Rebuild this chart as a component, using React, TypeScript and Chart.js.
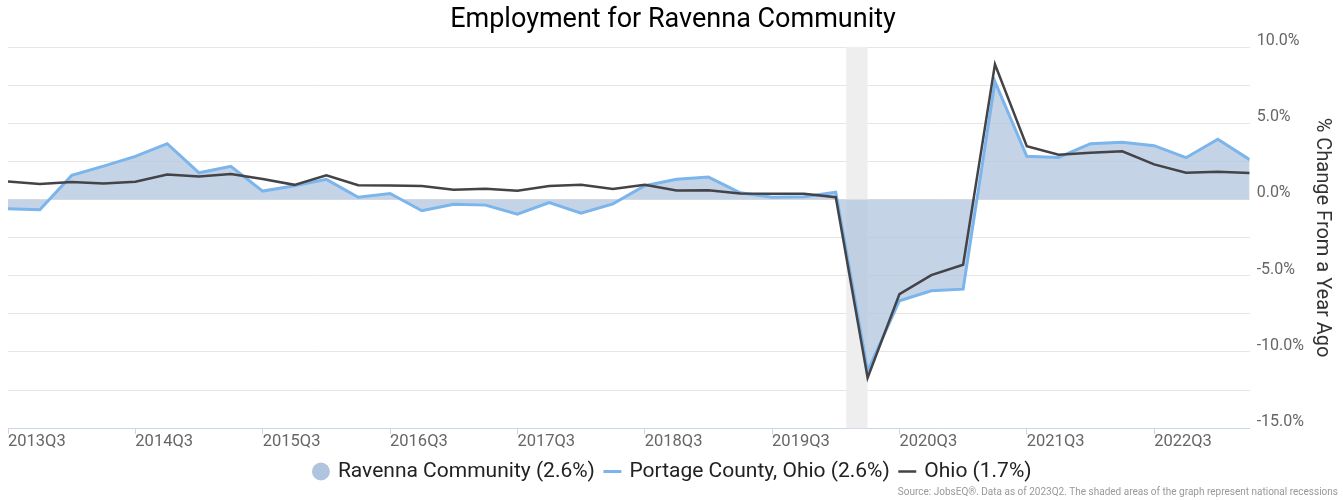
import React, { useEffect, useRef } from 'react';
import { Chart, registerables } from 'chart.js';

Chart.register(...registerables);

const quarters = [
  '2013Q3', '2013Q4', '2014Q1', '2014Q2', '2014Q3', '2014Q4', '2015Q1', '2015Q2',
  '2015Q3', '2015Q4', '2016Q1', '2016Q2', '2016Q3', '2016Q4', '2017Q1', '2017Q2',
  '2017Q3', '2017Q4', '2018Q1', '2018Q2', '2018Q3', '2018Q4', '2019Q1', '2019Q2',
  '2019Q3', '2019Q4', '2020Q1', '2020Q2', '2020Q3', '2020Q4', '2021Q1', '2021Q2',
  '2021Q3', '2021Q4', '2022Q1', '2022Q2', '2022Q3', '2022Q4', '2023Q1', '2023Q2',
];

const ravenna = [
  -0.61, -0.68, 1.58, 2.19, 2.83, 3.66, 1.75, 2.17, 0.55, 0.9,
  1.32, 0.15, 0.39, -0.74, -0.31, -0.37, -0.96, -0.2, -0.9, -0.29,
  0.9, 1.32, 1.47, 0.44, 0.15, 0.18, 0.48, -11.25, -6.64, -5.99,
  -5.88, 7.72, 2.83, 2.76, 3.66, 3.75, 3.53, 2.74, 3.95, 2.61,
];

const portage = [
  -0.61, -0.68, 1.58, 2.19, 2.83, 3.66, 1.75, 2.17, 0.55, 0.9,
  1.32, 0.15, 0.39, -0.74, -0.31, -0.37, -0.96, -0.2, -0.9, -0.29,
  0.9, 1.32, 1.47, 0.44, 0.15, 0.18, 0.48, -11.25, -6.64, -5.99,
  -5.88, 7.72, 2.83, 2.76, 3.66, 3.75, 3.53, 2.74, 3.95, 2.61,
];

const ohio = [
  1.18, 1.01, 1.14, 1.05, 1.16, 1.64, 1.51, 1.67, 1.34, 0.96,
  1.58, 0.94, 0.92, 0.88, 0.64, 0.7, 0.57, 0.88, 0.96, 0.68,
  0.96, 0.59, 0.61, 0.39, 0.37, 0.37, 0.15, -11.69, -6.21, -4.96,
  -4.28, 8.86, 3.49, 2.94, 3.07, 3.16, 2.3, 1.75, 1.82, 1.73,
];

const seriesNames = ['Ravenna Community (2.6%)', 'Portage County, Ohio (2.6%)', 'Ohio (1.7%)'];
const xTickIndices = [0, 4, 8, 12, 16, 20, 24, 28, 32, 36];
const yMin = -15;
const yMax = 10;
const yStep = 2.5;
// recession band in quarter-index units (Feb 2020 – Apr 2020)
const recessionStart = 26.33;
const recessionEnd = 27.0;

const titleText = 'Employment for Ravenna Community';
const yAxisTitle = '% Change From a Year Ago';
const sourceText = 'Source: JobsEQ®. Data as of 2023Q2. The shaded areas of the graph represent national recessions';

const toPoints = (arr: number[]) => arr.map((v, i) => ({ x: i, y: v }));

const recessionPlugin = {
  id: 'recessionBand',
  beforeDatasetsDraw(chart: any) {
    const { ctx, chartArea, scales } = chart;
    const x1 = scales.x.getPixelForValue(recessionStart);
    const x2 = scales.x.getPixelForValue(recessionEnd);
    ctx.save();
    ctx.fillStyle = '#eeeeee';
    ctx.fillRect(x1, chartArea.top, x2 - x1, chartArea.bottom - chartArea.top);
    ctx.restore();
  },
};

export default function App() {
  const canvasRef = useRef<HTMLCanvasElement | null>(null);

  useEffect(() => {
    if (!canvasRef.current) return;
    Chart.defaults.font.family = 'Roboto';
    const chart = new Chart(canvasRef.current, {
      type: 'line',
      data: {
        datasets: [
          {
            label: seriesNames[0],
            data: toPoints(ravenna),
            fill: 'origin',
            backgroundColor: 'rgba(176,196,222,0.75)',
            borderColor: 'rgba(0,0,0,0)',
            borderWidth: 0,
            pointRadius: 0,
            pointHoverRadius: 0,
            pointStyle: 'circle',
            tension: 0,
            order: 3,
          },
          {
            label: seriesNames[1],
            data: toPoints(portage),
            fill: false,
            borderColor: '#7cb5ec',
            backgroundColor: '#7cb5ec',
            borderWidth: 3,
            pointRadius: 0,
            pointHoverRadius: 0,
            pointStyle: 'line',
            tension: 0,
            order: 2,
          },
          {
            label: seriesNames[2],
            data: toPoints(ohio),
            fill: false,
            borderColor: '#434348',
            backgroundColor: '#434348',
            borderWidth: 2.5,
            pointRadius: 0,
            pointHoverRadius: 0,
            pointStyle: 'line',
            tension: 0,
            order: 1,
          },
        ],
      },
      options: {
        animation: false,
        responsive: true,
        maintainAspectRatio: false,
        layout: { padding: { left: 8, right: 5, top: 0, bottom: 2 } },
        plugins: {
          title: {
            display: true,
            text: titleText,
            color: '#000000',
            font: { size: 27, weight: 'normal' },
            padding: { top: 4, bottom: 10.6 },
          },
          subtitle: {
            display: true,
            text: sourceText,
            position: 'bottom',
            align: 'end',
            color: '#999999',
            font: { size: 10, weight: 'normal' },
            padding: { top: -6, bottom: 0 },
          },
          legend: {
            display: true,
            position: 'bottom',
            labels: {
              usePointStyle: true,
              boxHeight: 12.7,
              boxWidth: 13,
              padding: 11,
              color: '#222222',
              font: { size: 21 },
              sort: (a: any, b: any) => a.datasetIndex - b.datasetIndex,
              generateLabels: (chart: any) => {
                const items = Chart.defaults.plugins.legend.labels.generateLabels(chart);
                return items.map((it: any) => {
                  if (it.datasetIndex === 0) {
                    return { ...it, fillStyle: '#b0c4de', strokeStyle: '#b0c4de', lineWidth: 0 };
                  }
                  return it;
                });
              },
            },
          },
          tooltip: { enabled: false },
        },
        scales: {
          x: {
            type: 'linear',
            min: 0,
            max: quarters.length - 1,
            afterBuildTicks: (scale: any) => {
              scale.ticks = xTickIndices.map((v) => ({ value: v }));
            },
            ticks: {
              align: 'start',
              autoSkip: false,
              maxRotation: 0,
              color: '#666666',
              font: { size: 16.5 },
              padding: -2,
              callback: (v: any) => quarters[v] ?? '',
            },
            grid: {
              display: true,
              drawOnChartArea: false,
              drawTicks: true,
              tickLength: 6,
              color: '#ccd6eb',
            },
            border: { display: true, color: '#ccd6eb', width: 1 },
          },
          y: {
            position: 'right',
            min: yMin,
            max: yMax,
            ticks: {
              stepSize: yStep,
              color: '#666666',
              font: { size: 16 },
              padding: 7,
              labelOffset: -6,
              callback: (v: any) => (Math.abs(v % 5) < 1e-9 ? Number(v).toFixed(1) + '%' : ''),
            },
            grid: { color: '#e6e6e6', drawTicks: false },
            border: { display: false },
            title: {
              display: true,
              text: yAxisTitle,
              color: '#333333',
              font: { size: 20 },
              padding: { top: 4, bottom: -1 },
            },
          },
        },
      },
      plugins: [recessionPlugin],
    });
    return () => chart.destroy();
  }, []);

  return (
    <div style={{ position: 'absolute', left: 0, top: 0, width: 1343, height: 500 }}>
      <canvas ref={canvasRef} />
    </div>
  );
}
